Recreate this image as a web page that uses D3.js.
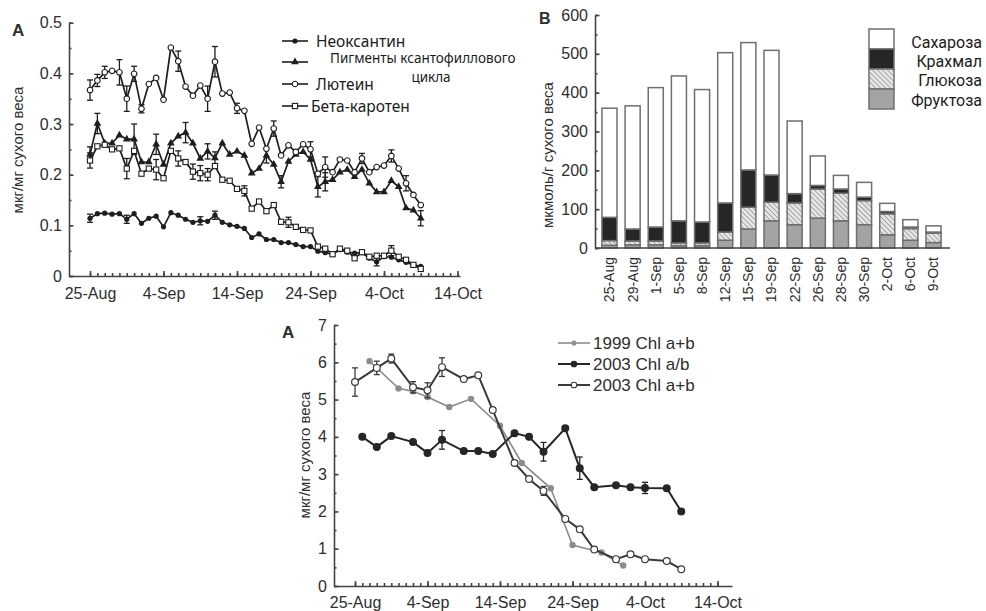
<!DOCTYPE html>
<html>
<head>
<meta charset="utf-8">
<script src="https://cdn.jsdelivr.net/npm/d3@7"></script>
<style>
  body { margin: 0; background: #fff; }
  svg text { font-family: "Liberation Sans", Arial, sans-serif; fill: #2e2e2e; }
  svg text.ru { font-family: "Noto Sans", "Open Sans", sans-serif; fill: #1c1c1c; }
  svg text.rl { font-family: Roboto, "Noto Sans", sans-serif; fill: #1c1c1c; }
</style>
</head>
<body>
<svg id="chart" width="986" height="611"></svg>
<script>
// ---- panel A (top left): pigments, one value per day from 25-Aug to 9-Oct
const neoxanthin = [0.114, 0.123, 0.124, 0.122, 0.123, 0.112, 0.123, 0.104, 0.114, 0.118,
  0.097, 0.125, 0.12, 0.112, 0.106, 0.109, 0.108, 0.12, 0.106, 0.101,
  0.098, 0.094, 0.076, 0.083, 0.072, 0.072, 0.066, 0.066, 0.062, 0.058,
  0.058, 0.049, 0.046, 0.043, 0.052, 0.047, 0.045, 0.046, 0.035, 0.028,
  0.038, 0.037, 0.032, 0.027, 0.022, 0.019];
const xanthophyll = [0.24, 0.301, 0.262, 0.262, 0.278, 0.27, 0.27, 0.225, 0.225, 0.26,
  0.22, 0.262, 0.276, 0.283, 0.262, 0.232, 0.246, 0.233, 0.262, 0.24,
  0.246, 0.238, 0.203, 0.212, 0.238, 0.22, 0.186, 0.226, 0.24, 0.245,
  0.23, 0.176, 0.186, 0.19, 0.205, 0.21, 0.196, 0.21, 0.183, 0.166,
  0.166, 0.188, 0.176, 0.134, 0.13, 0.114];
const lutein = [0.367, 0.386, 0.402, 0.405, 0.402, 0.35, 0.399, 0.33, 0.379, 0.391,
  0.348, 0.451, 0.424, 0.374, 0.356, 0.376, 0.35, 0.423, 0.36, 0.362,
  0.331, 0.326, 0.261, 0.293, 0.251, 0.291, 0.238, 0.258, 0.245, 0.26,
  0.25, 0.202, 0.215, 0.205, 0.23, 0.228, 0.205, 0.232, 0.205, 0.215,
  0.218, 0.237, 0.212, 0.183, 0.16, 0.14];
const betaCarotene = [0.228, 0.256, 0.259, 0.25, 0.252, 0.212, 0.247, 0.202, 0.212, 0.21,
  0.193, 0.247, 0.232, 0.225, 0.206, 0.203, 0.2, 0.217, 0.19, 0.188,
  0.172, 0.168, 0.133, 0.147, 0.128, 0.14, 0.107, 0.106, 0.097, 0.091,
  0.09, 0.058, 0.054, 0.043, 0.054, 0.05, 0.035, 0.047, 0.038, 0.04,
  0.04, 0.05, 0.038, 0.032, 0.022, 0.014];
// error bars as [day, +/-]
const neoxanthinErr = [[0, 0.008], [5, 0.008], [15, 0.008], [17, 0.008], [39, 0.008]];
const xanthophyllErr = [[0, 0.015], [1, 0.02], [6, 0.03], [9, 0.02], [13, 0.02], [16, 0.015],
  [17, 0.012], [24, 0.015], [26, 0.012], [31, 0.02], [32, 0.018], [45, 0.015]];
const luteinErr = [[0, 0.02], [1, 0.012], [2, 0.012], [4, 0.025], [5, 0.025], [6, 0.015], [7, 0.008],
  [12, 0.02], [16, 0.025], [17, 0.03], [20, 0.01], [25, 0.015], [30, 0.015], [32, 0.02],
  [37, 0.01], [41, 0.012], [43, 0.015]];
const betaCaroteneErr = [[0, 0.015], [5, 0.02], [9, 0.02], [12, 0.015], [14, 0.015], [15, 0.015],
  [16, 0.012], [21, 0.01], [27, 0.01], [41, 0.01]];
const dayLabels = ["25-Aug", "4-Sep", "14-Sep", "24-Sep", "4-Oct", "14-Oct"];

// ---- panel B (top right): sugars and starch, stacked
const sugarDates = ["25-Aug", "29-Aug", "1-Sep", "5-Sep", "8-Sep", "12-Sep", "15-Sep", "19-Sep",
  "22-Sep", "26-Sep", "28-Sep", "30-Sep", "2-Oct", "6-Oct", "9-Oct"];
const fructose = [7, 8, 8, 6, 6, 20, 49, 70, 60, 77, 70, 60, 34, 20, 14];
const glucose = [12, 10, 10, 7, 7, 21, 56, 48, 56, 75, 71, 62, 54, 30, 24];
const starch = [60, 31, 36, 57, 54, 75, 96, 70, 24, 9, 11, 9, 6, 4, 3];
const sucrose = [281, 317, 359, 373, 341, 387, 328, 321, 187, 76, 35, 38, 21, 19, 16];

// ---- panel C (bottom): chlorophyll, day offsets from 25-Aug
const chl1999Days = [2, 6, 8, 10, 13, 16, 20, 23, 27, 30, 34, 37];
const chl1999 = [6.03, 5.3, 5.22, 5.07, 4.8, 5.02, 4.3, 3.3, 2.62, 1.1, 0.9, 0.55];
const chlRatioDays = [1, 3, 5, 8, 10, 12, 15, 17, 19, 22, 24, 26, 29, 31, 33, 36, 38, 40, 43, 45];
const chlRatio2003 = [4.0, 3.73, 4.02, 3.86, 3.57, 3.92, 3.62, 3.62, 3.54, 4.1, 4.0, 3.6, 4.23,
  3.16, 2.65, 2.7, 2.65, 2.63, 2.62, 2.0];
const chlRatioErr = [[12, 0.25], [26, 0.25], [31, 0.3], [40, 0.15]];
const chlSumDays = [0, 3, 5, 8, 10, 12, 15, 17, 19, 22, 24, 26, 29, 31, 33, 36, 38, 40, 43, 45];
const chlSum2003 = [5.47, 5.85, 6.1, 5.33, 5.25, 5.87, 5.55, 5.65, 4.72, 3.3, 2.87, 2.55, 1.8,
  1.52, 0.98, 0.72, 0.85, 0.72, 0.67, 0.45];
const chlSumErr = [[0, 0.38], [3, 0.18], [5, 0.12], [8, 0.15], [10, 0.2], [12, 0.25], [26, 0.12]];

const svg = d3.select("#chart");
const axisColor = "#444";
const ink = "#1e1e1e";

// y axis with inward ticks and minor ticks
function drawYAxis(y, x0, major, minor, fmt) {
  const g = svg.append("g").attr("transform", "translate(" + x0 + ",0)");
  g.append("g")
    .call(d3.axisLeft(y).tickValues(minor).tickFormat("").tickSize(-2.5).tickSizeOuter(0))
    .select(".domain").remove();
  g.append("g")
    .call(d3.axisLeft(y).tickValues(major).tickFormat(fmt).tickSize(-4.5).tickSizeOuter(0).tickPadding(7));
  g.selectAll("path, line").attr("stroke", axisColor).attr("stroke-width", 1.6);
  g.selectAll("text").attr("font-size", 16).attr("font-family", null).attr("fill", "#333");
  return g;
}

// x axis of daily ticks, labelled every 10 days
function drawXAxis(x, y0, pad) {
  const g = svg.append("g").attr("transform", "translate(0," + y0 + ")");
  g.append("g")
    .call(d3.axisBottom(x).tickValues(d3.range(0, 51)).tickFormat("").tickSize(-3).tickSizeOuter(0))
    .select(".domain").remove();
  g.append("g")
    .call(d3.axisBottom(x).tickValues([0, 10, 20, 30, 40, 50])
      .tickFormat((d, i) => dayLabels[i]).tickSize(-5).tickSizeOuter(0).tickPadding(pad));
  g.selectAll("path, line").attr("stroke", axisColor).attr("stroke-width", 1.6);
  g.selectAll("text").attr("font-size", 16).attr("font-family", null).attr("fill", "#333");
}

function errorBars(data, x, y, color) {
  const g = svg.append("g").attr("stroke", color).attr("stroke-width", 1.3);
  data.forEach(e => {
    const cx = e.x, top = y(e.v + e.err), bot = y(e.v - e.err);
    g.append("line").attr("x1", x(cx)).attr("x2", x(cx)).attr("y1", top).attr("y2", bot);
    g.append("line").attr("x1", x(cx) - 3).attr("x2", x(cx) + 3).attr("y1", top).attr("y2", top);
    g.append("line").attr("x1", x(cx) - 3).attr("x2", x(cx) + 3).attr("y1", bot).attr("y2", bot);
  });
}

// =========== panel A ===========
const xA = d3.scaleLinear().domain([-2.86, 50.34]).range([69, 460]);
const yA = d3.scaleLinear().domain([0, 0.5]).range([276, 22.7]);

drawYAxis(yA, 69, [0, 0.1, 0.2, 0.3, 0.4, 0.5], d3.range(0, 0.51, 0.05),
  d => d === 0 ? "0" : d3.format(".1f")(d));
drawXAxis(xA, 276, 12);

svg.append("text").attr("x", 12).attr("y", 36).attr("font-size", 17).attr("font-weight", "bold").text("A");
svg.append("text")
  .attr("transform", "translate(23,150) rotate(-90)")
  .attr("text-anchor", "middle").attr("font-size", 15)
  .text("мкг/мг сухого веса");

const pigments = [
  { name: "Неоксантин", values: neoxanthin, err: neoxanthinErr, shape: "dot" },
  { name: "Пигменты ксантофиллового цикла", values: xanthophyll, err: xanthophyllErr, shape: "tri" },
  { name: "Лютеин", values: lutein, err: luteinErr, shape: "open" },
  { name: "Бета-каротен", values: betaCarotene, err: betaCaroteneErr, shape: "square" }
];

function marker(sel, shape) {
  if (shape === "dot") {
    sel.append("circle").attr("r", 2.6).attr("fill", ink);
  } else if (shape === "tri") {
    sel.append("path").attr("d", d3.symbol(d3.symbolTriangle, 26)).attr("fill", ink);
  } else if (shape === "open") {
    sel.append("circle").attr("r", 2.8).attr("fill", "#fff").attr("stroke", ink).attr("stroke-width", 1.1);
  } else {
    sel.append("rect").attr("x", -2.6).attr("y", -2.6).attr("width", 5.2).attr("height", 5.2)
      .attr("fill", "#fff").attr("stroke", ink).attr("stroke-width", 1.1);
  }
}

const lineA = d3.line().x((d, i) => xA(i)).y(d => yA(d));
pigments.forEach(p => {
  errorBars(p.err.map(e => ({ x: e[0], v: p.values[e[0]], err: e[1] })), xA, yA, ink);
  svg.append("path").datum(p.values)
    .attr("d", lineA).attr("fill", "none").attr("stroke", ink).attr("stroke-width", 1.7);
  svg.append("g").selectAll("g").data(p.values).enter().append("g")
    .attr("transform", (d, i) => "translate(" + xA(i) + "," + yA(d) + ")")
    .each(function () { marker(d3.select(this), p.shape); });
});

// legend A
const legendA = [
  { y: 41, shape: "dot", label: "Неоксантин", lx: 316, size: 15.5 },
  { y: 62, shape: "tri", label: "", lx: 316, size: 15 },
  { y: 84, shape: "open", label: "Лютеин", lx: 316, size: 15.5 },
  { y: 106, shape: "square", label: "Бета-каротен", lx: 311, size: 15.5 }
];
legendA.forEach(l => {
  svg.append("line").attr("x1", 282).attr("x2", 308).attr("y1", l.y).attr("y2", l.y)
    .attr("stroke", ink).attr("stroke-width", 1.6);
  const m = svg.append("g").attr("transform", "translate(295," + l.y + ")");
  marker(m, l.shape);
  if (l.label) {
    svg.append("text").attr("class", "ru").attr("x", l.lx).attr("y", l.y + 5.5)
      .attr("font-size", l.size).text(l.label);
  }
});
svg.append("text").attr("class", "ru").attr("x", 330).attr("y", 63)
  .attr("font-size", 13.5).text("Пигменты ксантофиллового");
svg.append("text").attr("class", "ru").attr("x", 431).attr("y", 82)
  .attr("text-anchor", "middle").attr("font-size", 13.5).text("цикла");

// =========== panel B ===========
const xB = d3.scaleBand().domain(sugarDates).range([595, 948]).paddingInner(0.35).paddingOuter(0.3);
const yB = d3.scaleLinear().domain([0, 600]).range([248, 15]);

const defs = svg.append("defs");
const hatch = defs.append("pattern").attr("id", "hatch").attr("patternUnits", "userSpaceOnUse")
  .attr("width", 3.5).attr("height", 3.5).attr("patternTransform", "rotate(-45)");
hatch.append("rect").attr("width", 3.5).attr("height", 3.5).attr("fill", "#e6e6e6");
hatch.append("line").attr("x1", 0).attr("x2", 0).attr("y1", 0).attr("y2", 3.5)
  .attr("stroke", "#8a8a8a").attr("stroke-width", 1.4);

const sugarKeys = ["fructose", "glucose", "starch", "sucrose"];
const sugarFill = { fructose: "#a3a3a3", glucose: "url(#hatch)", starch: "#262626", sucrose: "#fff" };
const sugarTable = sugarDates.map((d, i) => ({
  date: d, fructose: fructose[i], glucose: glucose[i], starch: starch[i], sucrose: sucrose[i]
}));
const stacked = d3.stack().keys(sugarKeys)(sugarTable);

svg.append("g").selectAll("g").data(stacked).enter().append("g")
  .attr("fill", d => sugarFill[d.key])
  .selectAll("rect").data(d => d).enter().append("rect")
  .attr("x", d => xB(d.data.date))
  .attr("width", xB.bandwidth())
  .attr("y", d => yB(d[1]))
  .attr("height", d => yB(d[0]) - yB(d[1]))
  .attr("stroke", "#6f6f6f").attr("stroke-width", 1.5);

drawYAxis(yB, 595, d3.range(0, 601, 100), d3.range(0, 601, 50), d3.format("d"));

const gBx = svg.append("g").attr("transform", "translate(0,248)")
  .call(d3.axisBottom(xB).tickSize(0).tickPadding(8));
gBx.select(".domain").attr("d", "M595,0H950").attr("stroke", axisColor).attr("stroke-width", 1.6);
gBx.selectAll("text")
  .attr("font-size", 14).attr("font-family", null).attr("fill", "#333")
  .attr("transform", "rotate(-90)")
  .attr("text-anchor", "end").attr("dy", "0.35em").attr("x", -9).attr("y", 0);

svg.append("text").attr("x", 539).attr("y", 24).attr("font-size", 16).attr("font-weight", "bold").text("B");
svg.append("text")
  .attr("transform", "translate(553,155) rotate(-90)")
  .attr("text-anchor", "middle").attr("font-size", 15)
  .text("мкмоль/г сухого веса");

// legend B
const legendB = [
  { key: "sucrose", label: "Сахароза", ty: 48 },
  { key: "starch", label: "Крахмал", ty: 67 },
  { key: "glucose", label: "Глюкоза", ty: 86 },
  { key: "fructose", label: "Фруктоза", ty: 106 }
];
legendB.forEach((l, i) => {
  svg.append("rect").attr("x", 869).attr("y", 29 + i * 20).attr("width", 25).attr("height", 20)
    .attr("fill", sugarFill[l.key]).attr("stroke", "#6f6f6f").attr("stroke-width", 1.5);
  svg.append("text").attr("class", "rl").attr("x", 982).attr("y", l.ty)
    .attr("text-anchor", "end").attr("font-size", 16).text(l.label);
});

// =========== panel C ===========
const xC = d3.scaleLinear().domain([-2.9, 52]).range([334, 732]);
const yC = d3.scaleLinear().domain([0, 7]).range([586, 325]);

drawYAxis(yC, 334, d3.range(0, 8), d3.range(0, 7.01, 0.5), d3.format("d"));
drawXAxis(xC, 586, 11);

svg.append("text").attr("x", 282).attr("y", 338).attr("font-size", 17).attr("font-weight", "bold").text("A");
svg.append("text")
  .attr("transform", "translate(310,455) rotate(-90)")
  .attr("text-anchor", "middle").attr("font-size", 15)
  .text("мкг/мг сухого веса");

const chlSeries = [
  { days: chl1999Days, values: chl1999, err: [], color: "#8c8c8c", width: 1.6, fill: "#8c8c8c", r: 2.6 },
  { days: chlRatioDays, values: chlRatio2003, err: chlRatioErr, color: "#262626", width: 2, fill: "#262626", r: 3.4 },
  { days: chlSumDays, values: chlSum2003, err: chlSumErr, color: "#3a3a3a", width: 2, fill: "#fff", r: 3.4 }
];
chlSeries.forEach(s => {
  const pts = s.days.map((d, i) => ({ x: d, v: s.values[i] }));
  errorBars(s.err.map(e => ({ x: e[0], v: s.values[s.days.indexOf(e[0])], err: e[1] })), xC, yC, s.color);
  svg.append("path").datum(pts)
    .attr("d", d3.line().x(d => xC(d.x)).y(d => yC(d.v)))
    .attr("fill", "none").attr("stroke", s.color).attr("stroke-width", s.width);
  svg.append("g").selectAll("circle").data(pts).enter().append("circle")
    .attr("cx", d => xC(d.x)).attr("cy", d => yC(d.v)).attr("r", s.r)
    .attr("fill", s.fill).attr("stroke", s.color).attr("stroke-width", 1.2);
});

// legend C
const legendC = ["1999 Chl a+b", "2003 Chl a/b", "2003 Chl a+b"];
const legendCy = [343, 364, 385];
legendC.forEach((label, i) => {
  const s = chlSeries[i];
  svg.append("line").attr("x1", 558).attr("x2", 590).attr("y1", legendCy[i]).attr("y2", legendCy[i])
    .attr("stroke", s.color).attr("stroke-width", s.width);
  svg.append("circle").attr("cx", 574).attr("cy", legendCy[i]).attr("r", s.r - 0.6)
    .attr("fill", s.fill).attr("stroke", s.color).attr("stroke-width", 1.1);
  svg.append("text").attr("x", 593).attr("y", legendCy[i] + 6)
    .attr("font-size", 17).attr("fill", "#333").text(label);
});
</script>
</body>
</html>
